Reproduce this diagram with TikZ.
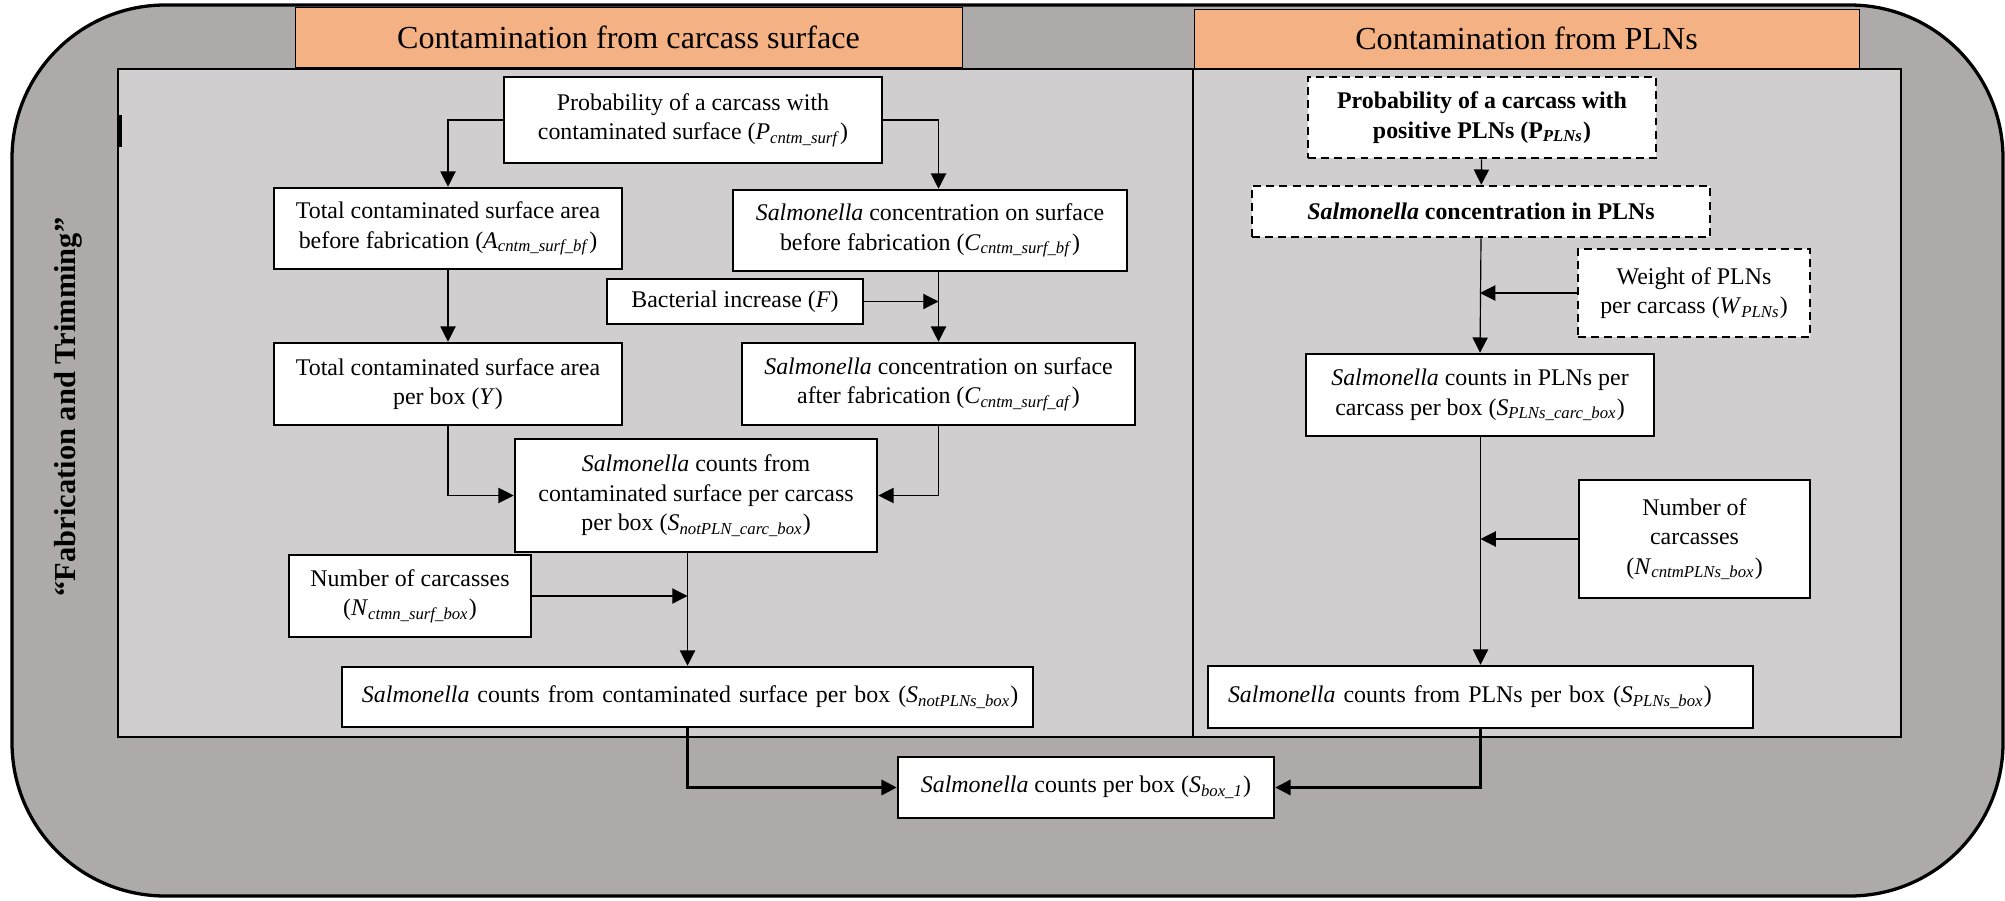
\documentclass[tikz,border=0pt]{standalone}
\usepackage{fontspec}
\setmainfont{Liberation Serif}
\usetikzlibrary{arrows.meta}
\definecolor{outergray}{HTML}{AEAAAA}
\definecolor{panelgray}{HTML}{D0CECE}
\definecolor{headorange}{HTML}{F4B183}
\newcommand{\salm}{\textit{Salmonella}}
\newcommand{\vsub}[2]{\textit{#1}\textsubscript{\textit{#2}}}

\begin{document}
\begin{tikzpicture}[x=0.015cm,y=-0.015cm,
  box/.style={draw,line width=1.1pt,fill=white,align=center,inner sep=1pt,
    font=\fontsize{10.2}{12.6}\selectfont},
  dashbox/.style={box,dash pattern=on 3.4pt off 2.2pt,
    font=\fontsize{10.2}{12.6}\selectfont\bfseries},
  widebox/.style={box,align=left,inner xsep=0.18cm},
  header/.style={draw,line width=0.4pt,fill=headorange,
    font=\fontsize{13.7}{16}\selectfont},
  panel/.style={draw,line width=0.8pt,fill=panelgray},
  link/.style={-{Triangle[length=6.5pt,width=6.5pt]},line width=0.5pt},
  mainlink/.style={link,line width=1.1pt}]
  \useasboundingbox (0,0) rectangle (2005,900);
  % Frame of the stage
  \draw[line width=1.4pt,fill=outergray,rounded corners=2.3cm] (12,5) rectangle (2003,896);
  \node[rotate=90,font=\fontsize{13}{15}\selectfont\bfseries] (stage) at (68,407)
       {“Fabrication and Trimming”};
  \draw[panel] (118,69) rectangle (1193,737);
  \draw[panel] (1193,69) rectangle (1901,737);
  \draw[line width=1.5pt] (120,115) -- (120,147);
  \node[header,minimum width=10.005cm,minimum height=0.9cm] (surfhead) at (628.5,37)
       {Contamination from carcass surface};
  \node[header,minimum width=9.975cm,minimum height=0.885cm] (plnhead) at (1526.5,38.5)
       {Contamination from PLNs};
  % Left-hand side part of the Figure
  \node[box,minimum width=5.67cm,minimum height=1.29cm] (Psurf) at (693,120)
       {Probability of a carcass with\\contaminated surface (\vsub{P}{cntm\_surf})};
  \node[box,minimum width=5.22cm,minimum height=1.215cm] (Abf) at (448,228.5)
       {Total contaminated surface area\\before fabrication (\vsub{A}{cntm\_surf\_bf})};
  \node[box,minimum width=5.91cm,minimum height=1.215cm] (Cbf) at (930,230.5)
       {\salm{} concentration on surface\\before fabrication (\vsub{C}{cntm\_surf\_bf})};
  \node[box,minimum width=3.84cm,minimum height=0.675cm] (F) at (735,301.5)
       {Bacterial increase (\textit{F})};
  \node[box,minimum width=5.22cm,minimum height=1.23cm] (Y) at (448,384)
       {Total contaminated surface area\\per box (\textit{Y})};
  \node[box,minimum width=5.895cm,minimum height=1.23cm] (Caf) at (938.5,384)
       {\salm{} concentration on surface\\after fabrication (\vsub{C}{cntm\_surf\_af})};
  \node[box,minimum width=5.43cm,minimum height=1.695cm] (SnPc) at (696,495.5)
       {\salm{} counts from\\contaminated surface per carcass\\per box (\vsub{S}{notPLN\_carc\_box})};
  \node[box,minimum width=3.63cm,minimum height=1.23cm] (Nsurf) at (410,596)
       {Number of carcasses\\(\vsub{N}{ctmn\_surf\_box})};
  \node[widebox,text width=10.005cm,minimum height=0.9cm] (SnPb) at (687.5,697)
       {\hspace{0.12cm}\salm{} counts from contaminated surface per box (\vsub{S}{notPLNs\_box})};
  \draw[link] (Psurf.west) -| (Abf.north);
  \draw[link] (Psurf.east) -| (Cbf.north -| Caf.north);
  \draw[link] (Abf) -- (Y);
  \draw[link] (Cbf.south -| Caf.north) -- (Caf.north);
  \draw[link] (F.east) -- (F.east -| Caf.north);
  \draw[link] (Y.south) |- (SnPc.west);
  \draw[link] (Caf.south) |- (SnPc.east);
  \draw[link] (SnPc.south -| SnPb.north) -- (SnPb.north);
  \draw[link] (Nsurf.east) -- (Nsurf.east -| SnPb.north);
  % Right-hand side part of the Figure
  \node[dashbox,minimum width=5.22cm,minimum height=1.215cm] (Ppln) at (1482,117.5)
       {Probability of a carcass with\\positive PLNs (P\textsubscript{\textit{PLNs}})};
  \node[dashbox,minimum width=6.87cm,minimum height=0.765cm] (Cpln) at (1481,211.5)
       {\textit{Salmonella} concentration in PLNs};
  \node[box,dash pattern=on 3.4pt off 2.2pt,minimum width=3.48cm,minimum height=1.32cm] (Wpln) at (1694,293)
       {Weight of PLNs\\per carcass (\vsub{W}{PLNs})};
  \node[box,minimum width=5.22cm,minimum height=1.23cm] (SPc) at (1480,395)
       {\salm{} counts in PLNs per\\carcass per box (\vsub{S}{PLNs\_carc\_box})};
  \node[box,minimum width=3.465cm,minimum height=1.77cm] (Npln) at (1694.5,539)
       {Number of\\carcasses\\(\vsub{N}{cntmPLNs\_box})};
  \node[widebox,text width=7.815cm,minimum height=0.93cm] (SPb) at (1480.5,697)
       {\hspace{0.12cm}\salm{} counts from PLNs per box (\vsub{S}{PLNs\_box})};
  \draw[link] (Ppln) -- (Cpln);
  \draw[link] (Cpln.south) -- (SPc.north);
  \draw[link] (Wpln.west) -- (Wpln.west -| SPc.north);
  \draw[link] (SPc.south -| SPb.north) -- (SPb.north);
  \draw[link] (Npln.west) -- (Npln.west -| SPb.north);
  % Total per box
  \node[box,minimum width=5.64cm,minimum height=0.915cm] (Sbox) at (1086,787.5)
       {\salm{} counts per box (\vsub{S}{box\_1})};
  \draw[mainlink] (SnPb.south) |- (Sbox.west);
  \draw[mainlink] (SPb.south) |- (Sbox.east);
\end{tikzpicture}
\end{document}
